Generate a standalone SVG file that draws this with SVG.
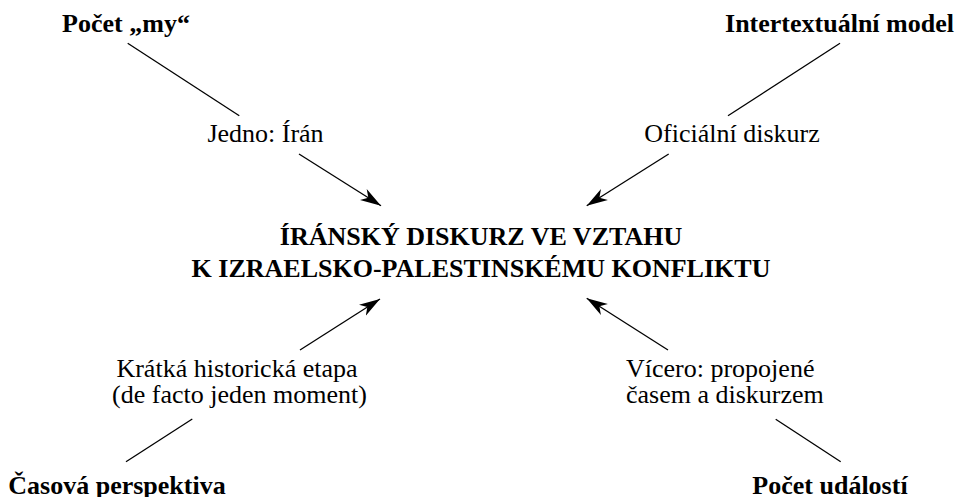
<svg xmlns="http://www.w3.org/2000/svg" width="964" height="497" viewBox="0 0 964 497">
<style>
text{font-family:"Liberation Serif","Times New Roman",serif;font-size:26px;fill:#000}
.b{font-weight:bold}
.c{stroke:#000;stroke-width:1.3;fill:none}
.a{marker-end:url(#ah)}
</style>
<defs>
<marker id="ah" markerUnits="userSpaceOnUse" viewBox="-21 -7 22 14" refX="0" refY="0" markerWidth="22" markerHeight="14" orient="auto">
<path d="M0,0 L-21,-6.5 L-15,0 L-21,6.5 Z" fill="#000"/>
</marker>
</defs>
<rect width="964" height="497" fill="#fff"/>
<g id="connectors">
<line class="c" x1="127.7" y1="43.3" x2="239.3" y2="115.7"/>
<line class="c a" x1="299" y1="154" x2="381" y2="205.7"/>
<line class="c" x1="840" y1="43.3" x2="728" y2="115.7"/>
<line class="c a" x1="668.7" y1="154" x2="586.7" y2="205.7"/>
<line class="c a" x1="300" y1="350" x2="380" y2="299"/>
<line class="c" x1="192.3" y1="419" x2="126" y2="461.7"/>
<line class="c a" x1="668" y1="350" x2="586.7" y2="298.3"/>
<line class="c" x1="775.7" y1="419.3" x2="840.7" y2="461.7"/>
</g>
<g id="center">
<text class="b" x="481" y="245" text-anchor="middle">ÍRÁNSKÝ DISKURZ VE VZTAHU</text>
<text class="b" x="481" y="277" text-anchor="middle">K IZRAELSKO-PALESTINSKÉMU KONFLIKTU</text>
</g>
<g id="pocet-my">
<text class="b" x="126" y="32" text-anchor="middle">Počet „my“</text>
</g>
<g id="jedno-iran">
<text x="265.5" y="142" text-anchor="middle">Jedno: Írán</text>
</g>
<g id="intertextualni-model">
<text class="b" x="839.5" y="32" text-anchor="middle">Intertextuální model</text>
</g>
<g id="oficialni-diskurz">
<text x="732" y="142" text-anchor="middle">Oficiální diskurz</text>
</g>
<g id="kratka-etapa">
<text x="237" y="377" text-anchor="middle">Krátká historická etapa</text>
<text x="239.5" y="403" text-anchor="middle">(de facto jeden moment)</text>
</g>
<g id="casova-perspektiva">
<text class="b" x="117" y="494" text-anchor="middle">Časová perspektiva</text>
</g>
<g id="vicero">
<text x="626" y="377">Vícero: propojené</text>
<text x="626" y="403">časem a diskurzem</text>
</g>
<g id="pocet-udalosti">
<text class="b" x="830" y="494" text-anchor="middle">Počet událostí</text>
</g>
</svg>
